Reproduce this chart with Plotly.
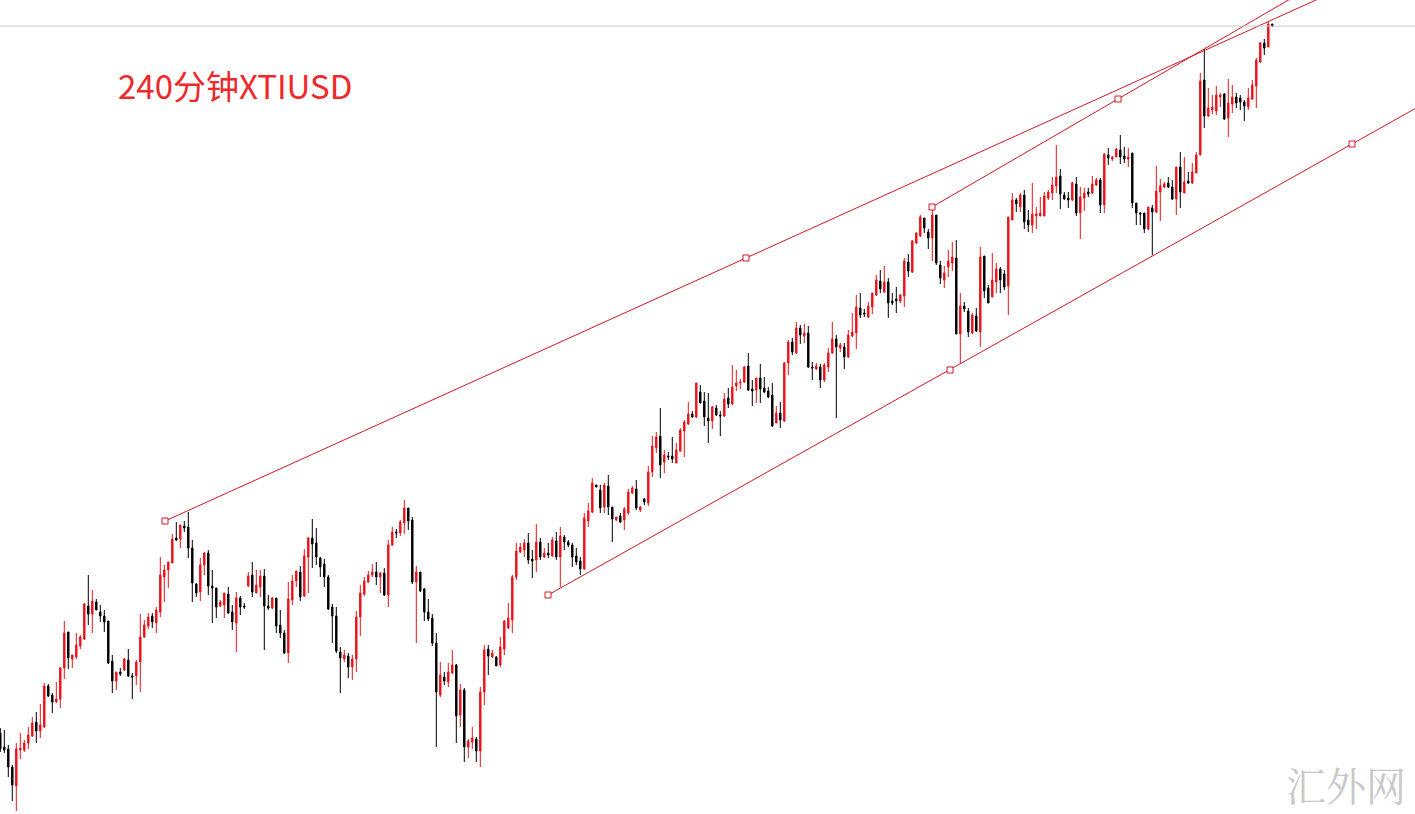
import plotly.graph_objects as go

# 240-minute XTIUSD candles (arbitrary price units)
open_ = [
    267,253,251,233,214,250,250,257,264,278,
    269,273,314,305,298,301,332,368,341,343,
    354,361,394,386,398,388,384,379,339,319,
    328,330,340,324,324,338,363,374,384,377,
    388,423,430,437,462,461,474,473,452,416,
    408,435,447,414,412,394,395,406,388,377,
    402,394,414,425,407,413,424,394,392,402,
    375,367,347,400,419,428,404,443,462,457,
    442,436,423,393,384,348,341,344,333,341,
    383,406,418,425,428,423,427,405,455,468,
    467,477,492,480,418,428,411,388,382,357,
    305,323,318,327,335,285,310,253,258,261,
    249,308,351,343,343,335,351,372,380,423,
    448,450,457,441,440,458,443,447,444,459,
    443,463,458,455,444,439,431,479,488,515,
    510,493,514,493,480,484,480,487,507,511,
    490,501,497,528,552,564,538,544,544,537,
    549,569,576,586,583,608,599,582,579,592,
    585,584,602,596,614,617,618,634,611,610,
    622,612,609,605,577,587,579,637,658,647,
    672,664,667,633,631,633,620,633,647,661,
    652,653,643,664,667,692,687,683,693,705,
    719,708,718,699,701,699,704,738,728,757,
    764,782,768,762,785,735,720,733,737,742,
    666,694,689,667,684,668,744,712,703,718,
    731,726,714,780,800,793,805,780,775,784,
    784,784,802,807,814,824,805,802,800,816,
    787,802,808,807,815,820,795,845,841,843,
    850,844,841,847,797,787,787,771,792,788,
    808,813,817,813,801,833,807,819,817,827,
    845,920,884,890,889,903,906,882,896,903,
    902,898,893,901,914,938,957,953,976,
]
high = [
    272,270,255,235,257,267,260,273,283,288,
    296,317,316,307,318,333,379,368,345,367,
    365,397,425,410,401,395,390,379,345,328,
    332,342,351,327,340,386,380,387,387,393,
    443,435,438,466,478,475,479,488,460,417,
    442,448,450,430,412,400,407,413,395,408,
    404,397,428,438,430,430,431,405,403,402,
    390,370,418,425,429,434,451,463,481,472,
    443,441,425,396,393,353,350,347,345,389,
    415,423,429,436,438,428,432,460,473,471,
    480,500,492,483,434,428,412,401,386,367,
    338,328,337,350,336,316,312,261,273,263,
    313,355,355,350,344,363,380,397,425,457,
    457,461,467,450,476,462,452,457,463,468,
    473,465,460,457,452,443,487,497,522,515,
    515,517,525,493,483,487,493,511,514,520,
    494,502,534,564,568,592,550,548,563,557,
    572,580,598,589,617,615,608,607,594,595,
    589,607,612,635,630,621,634,647,620,622,
    636,623,613,617,594,598,638,660,662,678,
    675,676,674,638,637,636,637,652,678,665,
    657,657,670,687,705,707,691,698,707,725,
    730,734,722,707,713,706,742,746,760,768,
    785,782,771,792,785,739,734,750,758,760,
    707,698,692,687,692,753,744,715,747,737,
    733,730,783,807,802,807,810,790,817,793,
    803,808,810,823,855,831,808,808,818,823,
    813,812,812,824,822,822,847,852,844,852,
    865,853,852,847,797,788,787,793,795,834,
    821,818,823,820,833,848,843,828,837,848,
    927,951,912,905,914,907,907,921,915,907,
    905,900,912,920,942,958,961,978,976,
]
low = [
    248,247,223,199,189,241,248,251,263,257,
    262,272,303,287,297,292,321,331,332,341,
    351,360,375,367,390,378,368,336,307,310,
    324,329,323,301,315,308,362,371,372,367,
    383,398,412,437,459,452,468,442,398,403,
    399,425,405,377,382,393,382,386,370,348,
    385,391,413,403,407,403,350,390,391,367,
    362,346,337,395,413,399,403,407,432,435,
    423,413,390,357,347,307,338,322,320,328,
    364,404,417,423,415,407,404,393,454,462,
    464,466,470,416,357,408,379,379,354,253,
    303,315,313,326,257,273,238,242,251,238,
    233,295,325,342,334,333,345,371,367,420,
    447,443,436,422,428,440,442,442,443,440,
    413,450,453,433,435,425,430,473,487,513,
    487,487,485,458,479,477,470,485,506,490,
    488,495,494,523,547,522,527,540,537,537,
    548,543,575,582,582,597,574,557,571,584,
    564,583,592,595,609,611,617,609,594,597,
    597,607,602,573,577,572,578,625,645,646,
    656,657,632,620,630,612,618,628,646,582,
    648,631,642,663,651,682,683,682,686,704,
    707,707,682,695,687,697,693,723,727,756,
    763,767,751,739,735,716,712,723,729,666,
    637,688,663,666,668,653,702,697,703,707,
    707,710,685,780,788,788,771,768,767,771,
    784,784,800,800,807,791,800,792,799,784,
    761,789,803,806,814,787,787,835,839,843,
    836,837,833,792,775,775,767,770,745,787,
    779,812,812,800,785,792,807,816,816,827,
    845,872,883,886,885,893,880,863,887,892,
    890,879,890,900,892,937,945,953,973,
]
close = [
    251,250,233,215,251,252,257,265,277,269,
    275,314,304,298,301,332,367,342,345,355,
    363,396,386,399,390,384,378,337,319,328,
    326,341,324,323,338,363,375,383,378,390,
    425,430,438,461,460,475,472,452,417,407,
    435,447,414,412,393,398,407,387,378,402,
    393,393,424,408,415,424,394,392,402,374,
    367,347,401,419,429,403,444,462,456,443,
    433,423,391,384,349,342,345,333,341,383,
    407,419,425,428,423,427,405,455,468,467,
    478,492,479,418,428,409,388,381,357,308,
    325,319,328,335,284,310,253,259,262,249,
    308,350,344,347,334,353,379,382,423,449,
    453,457,440,439,458,443,447,445,460,443,
    464,458,455,443,438,431,482,489,517,513,
    492,515,493,481,483,478,491,508,512,492,
    493,498,528,554,563,535,545,543,541,550,
    570,578,586,583,617,597,583,579,593,585,
    584,601,596,613,617,618,633,610,609,622,
    611,608,603,574,587,580,637,658,648,672,
    665,667,633,632,634,620,635,647,661,653,
    655,643,665,668,693,685,686,694,707,720,
    711,718,697,697,699,705,739,729,759,767,
    783,772,762,785,737,722,727,739,743,666,
    694,691,668,685,669,743,709,697,720,731,
    720,713,783,800,796,805,778,775,786,786,
    787,804,808,815,823,806,801,800,817,787,
    803,807,806,816,820,795,846,842,843,851,
    843,841,843,797,787,786,771,793,788,809,
    814,816,813,801,833,808,818,817,828,845,
    919,884,892,893,905,905,881,897,903,897,
    898,894,902,915,940,957,952,976,974,
]
bar_index = list(range(len(close)))

# Trend-line anchor points (bar index, price)
upper_line_x = [41.175, 186.425]
upper_line_y = [479, 742]
mid_line_x = [232.925, 279.425]
mid_line_y = [793, 901]
lower_line_x = [136.925, 237.425, 337.925]
lower_line_y = [405, 630, 856]

title_text = "240分钟XTIUSD"
watermark_text = "汇外网"

RED = "#e8141c"
LINE_RED = "#d01826"

fig = go.Figure()
fig.add_trace(go.Candlestick(
    x=bar_index, open=open_, high=high, low=low, close=close,
    increasing=dict(line=dict(color=RED, width=1), fillcolor=RED),
    decreasing=dict(line=dict(color="#000000", width=1), fillcolor="#000000"),
    whiskerwidth=0, hoverinfo="skip",
))

X_END = 360.0
def ray(xs, ys):
    slope = (ys[-1] - ys[0]) / (xs[-1] - xs[0])
    return [xs[0], X_END], [ys[0], ys[0] + slope * (X_END - xs[0])]

for xs, ys in [(upper_line_x, upper_line_y), (mid_line_x, mid_line_y), (lower_line_x, lower_line_y)]:
    rx, ry = ray(xs, ys)
    fig.add_trace(go.Scatter(x=rx, y=ry, mode="lines",
                             line=dict(color=LINE_RED, width=1), hoverinfo="skip"))
    fig.add_trace(go.Scatter(x=xs, y=ys, mode="markers",
                             marker=dict(symbol="square", size=6, color="white",
                                         line=dict(color=LINE_RED, width=1)),
                             hoverinfo="skip"))

# bid line at last close
fig.add_shape(type="line", xref="paper", x0=0, x1=1, yref="y",
              y0=close[-1], y1=close[-1], line=dict(color="#c8c8c8", width=1))

fig.add_annotation(text=title_text, xref="paper", yref="paper",
                   x=116 / 1415, y=1 - 85 / 814, xanchor="left", yanchor="middle",
                   showarrow=False,
                   font=dict(family="Noto Sans CJK SC", size=33, color="#f0282a"))
fig.add_annotation(text=watermark_text, xref="paper", yref="paper",
                   x=1346 / 1415, y=1 - 783 / 814, xanchor="center", yanchor="middle",
                   showarrow=False,
                   font=dict(family="Noto Serif CJK SC, Noto Sans CJK SC", size=40,
                             color="#c8c8c8"))

fig.update_layout(
    width=1415, height=814,
    margin=dict(l=0, r=0, t=0, b=0),
    paper_bgcolor="white", plot_bgcolor="white",
    showlegend=False, boxgap=0.5,
    xaxis=dict(range=[-0.075, 353.675], visible=False, rangeslider=dict(visible=False),
               fixedrange=True),
    yaxis=dict(range=[186, 1000], visible=False, fixedrange=True),
)

fig.write_html("out.html", config={"displayModeBar": False},
               post_script="document.body.style.margin='0';document.body.style.overflow='hidden';")
